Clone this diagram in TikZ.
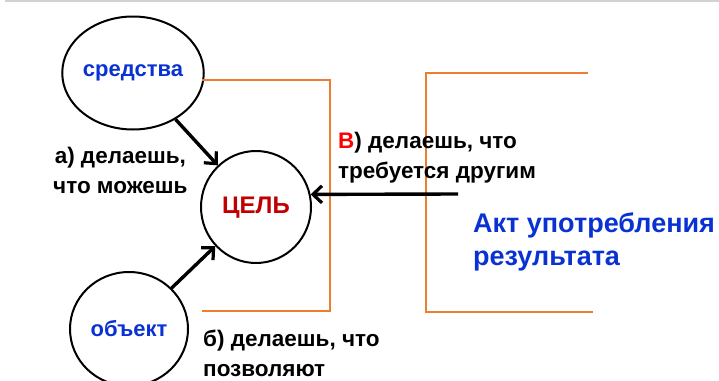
\documentclass[tikz,border=0pt]{standalone}
\usepackage{fontspec}
\setmainfont{Liberation Sans}
\usetikzlibrary{shapes.geometric,arrows.meta}
\definecolor{obr}{RGB}{237,125,49}
\definecolor{tblue}{RGB}{10,50,210}
\definecolor{tdred}{RGB}{192,0,0}
\definecolor{tred}{RGB}{255,0,0}
\begin{document}
\begin{tikzpicture}[x=1pt,y=-1pt,
  circ/.style={ellipse,draw=black,line width=2pt,inner sep=0pt,text=tblue,font=\fontsize{22}{24}\selectfont\bfseries},
  conn/.style={line width=3.4pt,-{Straight Barb[length=9pt,width=17pt,line width=3.2pt]}},
  bracket/.style={draw=obr,line width=2pt},
  lbl/.style={inner sep=0pt,font=\fontsize{22.5}{29.5}\selectfont\bfseries,align=left},
  big/.style={inner sep=0pt,text=tblue,font=\fontsize{27}{33}\selectfont\bfseries,align=left}]
\useasboundingbox (0,0) rectangle (719,380);
\draw[gray!35,line width=1.5pt] (5,1) -- (719,1);
% circles
\node[circ,minimum width=123pt,minimum height=113pt] (sr) at (133,73) {средства};
\node[circ,minimum width=110pt,minimum height=112pt,text=tdred,font=\fontsize{24}{26}\selectfont\bfseries,text depth=3pt] (cel) at (256,207) {ЦЕЛЬ};
\node[circ,minimum width=118pt,minimum height=114pt] (ob) at (129,329) {объект};
% orange brackets
\draw[bracket] (202,80) -- (330,80) -- (330,311) -- (202,311);
\draw[bracket] (588,73) -- (426,73) -- (426,312) -- (593,312);
% arrows
\draw[conn] (sr) -- (cel);
\draw[conn] (ob) -- (cel);
\coordinate (src) at (458,194);
\draw[conn] (src) -- (cel.13);
% labels (base = baseline of last line)
\node[lbl,anchor=base west,align=center] (la) at (53,193) {а) делаешь,\\что можешь};
\node[lbl,anchor=base west] (lb) at (203,376) {б) делаешь, что\\позволяют};
\node[lbl,anchor=base west] (lv) at (338,178) {\textcolor{tred}{В}) делаешь, что\\требуется другим};
\node[big,anchor=base west] (akt) at (473,265) {Акт употребления\\результата};
\end{tikzpicture}
\end{document}
